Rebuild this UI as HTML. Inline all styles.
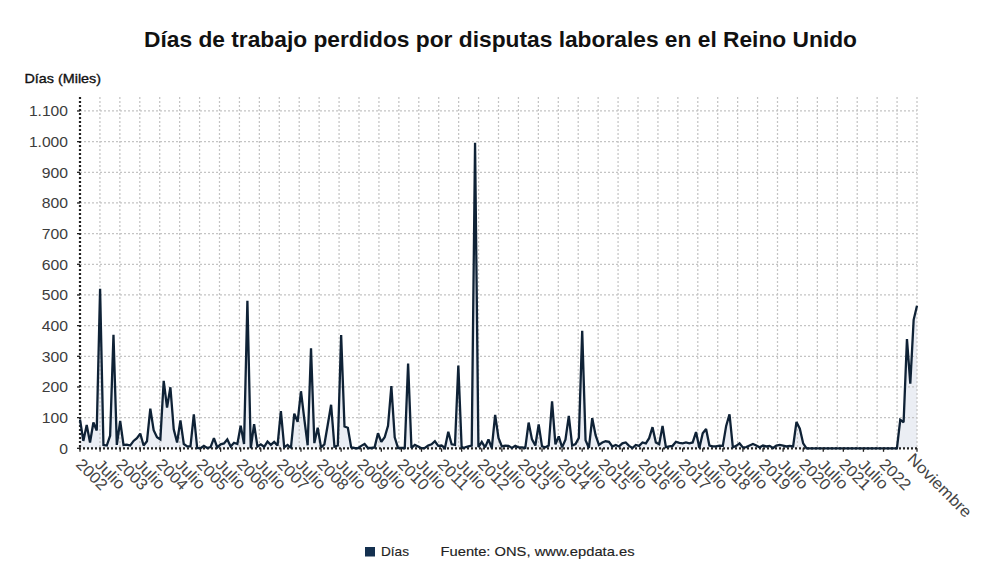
<!DOCTYPE html>
<html><head><meta charset="utf-8"><style>
html,body{margin:0;padding:0;background:#fff;}
body{width:1000px;height:588px;overflow:hidden;}
svg{display:block;font-family:"Liberation Sans",sans-serif;}
</style></head><body>
<svg width="1000" height="588" viewBox="0 0 1000 588">
<rect width="1000" height="588" fill="#fff"/>
<text x="144" y="47" font-size="21.5" font-weight="bold" fill="#111" textLength="713" lengthAdjust="spacingAndGlyphs">Días de trabajo perdidos por disputas laborales en el Reino Unido</text>
<text x="24.5" y="83.2" font-size="13" fill="#111" stroke="#111" stroke-width="0.35" textLength="76.5" lengthAdjust="spacingAndGlyphs">Días (Miles)</text>
<path d="M80.00,419.47 L83.35,440.94 L86.70,424.99 L90.04,442.47 L93.39,422.54 L96.74,430.51 L100.09,288.83 L103.44,444.93 L106.78,445.54 L110.13,435.73 L113.48,334.83 L116.83,444.93 L120.18,421.01 L123.52,444.93 L126.87,444.62 L130.22,445.54 L133.57,440.94 L136.92,438.18 L140.26,433.58 L143.61,445.54 L146.96,441.25 L150.31,408.74 L153.66,430.21 L157.00,437.26 L160.35,439.41 L163.70,380.83 L167.05,407.51 L170.40,387.27 L173.74,429.29 L177.09,442.47 L180.44,420.39 L183.79,444.01 L187.14,446.46 L190.48,446.46 L193.83,414.26 L197.18,447.99 L200.53,448.30 L203.88,445.85 L207.22,447.99 L210.57,447.07 L213.92,438.18 L217.27,447.38 L220.62,444.31 L223.96,443.39 L227.31,439.41 L230.66,446.46 L234.01,442.78 L237.36,444.01 L240.70,425.61 L244.05,444.01 L247.40,300.79 L250.75,448.30 L254.10,424.07 L257.44,446.46 L260.79,444.31 L264.14,446.77 L267.49,441.55 L270.84,444.93 L274.18,441.86 L277.53,445.54 L280.88,411.19 L284.23,447.38 L287.58,444.93 L290.92,447.99 L294.27,413.65 L297.62,421.93 L300.97,391.26 L304.32,419.17 L307.66,445.23 L311.01,348.33 L314.36,443.09 L317.71,427.75 L321.06,447.38 L324.40,444.31 L327.75,424.69 L331.10,404.75 L334.45,446.77 L337.80,445.54 L341.14,335.14 L344.49,426.53 L347.84,427.75 L351.19,447.38 L354.54,447.99 L357.88,448.30 L361.23,445.85 L364.58,444.01 L367.93,447.99 L371.28,447.99 L374.62,447.38 L377.97,433.27 L381.32,441.86 L384.67,437.26 L388.02,425.91 L391.36,386.05 L394.71,437.26 L398.06,447.99 L401.41,447.99 L404.76,447.99 L408.10,363.66 L411.45,447.99 L414.80,444.93 L418.15,446.46 L421.50,448.30 L424.84,447.99 L428.19,445.54 L431.54,444.31 L434.89,441.25 L438.24,445.85 L441.58,445.54 L444.93,447.99 L448.28,431.74 L451.63,444.31 L454.98,444.93 L458.32,365.50 L461.67,447.99 L465.02,447.38 L468.37,446.46 L471.72,445.54 L475.06,142.86 L478.41,447.07 L481.76,441.86 L485.11,447.38 L488.46,439.41 L491.80,447.99 L495.15,414.87 L498.50,437.87 L501.85,446.46 L505.20,445.54 L508.54,445.85 L511.89,447.99 L515.24,445.85 L518.59,447.38 L521.94,447.38 L525.28,447.99 L528.63,422.54 L531.98,439.41 L535.33,445.54 L538.68,424.38 L542.02,446.46 L545.37,447.38 L548.72,445.54 L552.07,401.38 L555.42,444.31 L558.76,436.34 L562.11,447.38 L565.46,439.71 L568.81,415.79 L572.16,445.54 L575.50,444.01 L578.85,437.87 L582.20,330.85 L585.55,440.33 L588.90,447.99 L592.24,418.25 L595.59,435.11 L598.94,444.93 L602.29,442.47 L605.64,441.25 L608.98,441.86 L612.33,446.46 L615.68,444.93 L619.03,446.46 L622.38,443.39 L625.72,442.47 L629.07,445.85 L632.42,447.99 L635.77,444.93 L639.12,445.85 L642.46,442.47 L645.81,443.39 L649.16,438.18 L652.51,427.14 L655.86,442.47 L659.20,444.31 L662.55,425.91 L665.90,447.07 L669.25,446.46 L672.60,445.85 L675.94,441.86 L679.29,442.78 L682.64,443.39 L685.99,442.47 L689.34,443.39 L692.68,442.47 L696.03,432.05 L699.38,447.99 L702.73,433.27 L706.08,428.98 L709.42,445.54 L712.77,446.46 L716.12,446.46 L719.47,445.54 L722.82,445.85 L726.16,425.91 L729.51,414.26 L732.86,447.38 L736.21,445.85 L739.56,443.39 L742.90,447.38 L746.25,447.07 L749.60,445.54 L752.95,444.01 L756.30,445.54 L759.64,447.38 L762.99,445.54 L766.34,446.46 L769.69,445.85 L773.04,447.99 L776.38,445.54 L779.73,444.93 L783.08,445.54 L786.43,446.46 L789.78,445.85 L793.12,446.46 L796.47,421.93 L799.82,428.67 L803.17,443.39 L806.52,448.30 L809.86,448.30 L813.21,448.30 L816.56,448.30 L819.91,448.30 L823.26,448.30 L826.60,448.30 L829.95,448.30 L833.30,448.30 L836.65,448.30 L840.00,448.30 L843.34,448.30 L846.69,448.30 L850.04,448.30 L853.39,448.30 L856.74,448.30 L860.08,448.30 L863.43,448.30 L866.78,448.30 L870.13,448.30 L873.48,448.30 L876.82,448.30 L880.17,448.30 L883.52,448.30 L886.87,448.30 L890.22,448.30 L893.56,448.30 L896.91,448.30 L900.26,419.78 L903.61,422.23 L906.96,339.13 L910.30,383.59 L913.65,319.81 L917.00,305.70 L917.00,448.3 L80.00,448.3 Z" fill="#ebeef4"/>
<g stroke="#c4c4c4" stroke-width="1.25" stroke-dasharray="2 2">
<line x1="80.0" y1="417.63" x2="917.0" y2="417.63"/><line x1="80.0" y1="386.97" x2="917.0" y2="386.97"/><line x1="80.0" y1="356.30" x2="917.0" y2="356.30"/><line x1="80.0" y1="325.63" x2="917.0" y2="325.63"/><line x1="80.0" y1="294.97" x2="917.0" y2="294.97"/><line x1="80.0" y1="264.30" x2="917.0" y2="264.30"/><line x1="80.0" y1="233.63" x2="917.0" y2="233.63"/><line x1="80.0" y1="202.96" x2="917.0" y2="202.96"/><line x1="80.0" y1="172.30" x2="917.0" y2="172.30"/><line x1="80.0" y1="141.63" x2="917.0" y2="141.63"/><line x1="80.0" y1="110.96" x2="917.0" y2="110.96"/><line x1="99.93" y1="97.0" x2="99.93" y2="448.3"/><line x1="119.86" y1="97.0" x2="119.86" y2="448.3"/><line x1="139.79" y1="97.0" x2="139.79" y2="448.3"/><line x1="159.71" y1="97.0" x2="159.71" y2="448.3"/><line x1="179.64" y1="97.0" x2="179.64" y2="448.3"/><line x1="199.57" y1="97.0" x2="199.57" y2="448.3"/><line x1="219.50" y1="97.0" x2="219.50" y2="448.3"/><line x1="239.43" y1="97.0" x2="239.43" y2="448.3"/><line x1="259.36" y1="97.0" x2="259.36" y2="448.3"/><line x1="279.29" y1="97.0" x2="279.29" y2="448.3"/><line x1="299.21" y1="97.0" x2="299.21" y2="448.3"/><line x1="319.14" y1="97.0" x2="319.14" y2="448.3"/><line x1="339.07" y1="97.0" x2="339.07" y2="448.3"/><line x1="359.00" y1="97.0" x2="359.00" y2="448.3"/><line x1="378.93" y1="97.0" x2="378.93" y2="448.3"/><line x1="398.86" y1="97.0" x2="398.86" y2="448.3"/><line x1="418.79" y1="97.0" x2="418.79" y2="448.3"/><line x1="438.71" y1="97.0" x2="438.71" y2="448.3"/><line x1="458.64" y1="97.0" x2="458.64" y2="448.3"/><line x1="478.57" y1="97.0" x2="478.57" y2="448.3"/><line x1="498.50" y1="97.0" x2="498.50" y2="448.3"/><line x1="518.43" y1="97.0" x2="518.43" y2="448.3"/><line x1="538.36" y1="97.0" x2="538.36" y2="448.3"/><line x1="558.29" y1="97.0" x2="558.29" y2="448.3"/><line x1="578.21" y1="97.0" x2="578.21" y2="448.3"/><line x1="598.14" y1="97.0" x2="598.14" y2="448.3"/><line x1="618.07" y1="97.0" x2="618.07" y2="448.3"/><line x1="638.00" y1="97.0" x2="638.00" y2="448.3"/><line x1="657.93" y1="97.0" x2="657.93" y2="448.3"/><line x1="677.86" y1="97.0" x2="677.86" y2="448.3"/><line x1="697.79" y1="97.0" x2="697.79" y2="448.3"/><line x1="717.71" y1="97.0" x2="717.71" y2="448.3"/><line x1="737.64" y1="97.0" x2="737.64" y2="448.3"/><line x1="757.57" y1="97.0" x2="757.57" y2="448.3"/><line x1="777.50" y1="97.0" x2="777.50" y2="448.3"/><line x1="797.43" y1="97.0" x2="797.43" y2="448.3"/><line x1="817.36" y1="97.0" x2="817.36" y2="448.3"/><line x1="837.29" y1="97.0" x2="837.29" y2="448.3"/><line x1="857.21" y1="97.0" x2="857.21" y2="448.3"/><line x1="877.14" y1="97.0" x2="877.14" y2="448.3"/><line x1="897.07" y1="97.0" x2="897.07" y2="448.3"/><line x1="917.00" y1="97.0" x2="917.00" y2="448.3"/>
</g>
<g stroke="#222" stroke-width="2.2" stroke-dasharray="2 2">
<line x1="80" y1="97.0" x2="80" y2="449.3"/>
<line x1="79" y1="448.3" x2="917.0" y2="448.3"/>
</g>
<path d="M80.00,419.47 L83.35,440.94 L86.70,424.99 L90.04,442.47 L93.39,422.54 L96.74,430.51 L100.09,288.83 L103.44,444.93 L106.78,445.54 L110.13,435.73 L113.48,334.83 L116.83,444.93 L120.18,421.01 L123.52,444.93 L126.87,444.62 L130.22,445.54 L133.57,440.94 L136.92,438.18 L140.26,433.58 L143.61,445.54 L146.96,441.25 L150.31,408.74 L153.66,430.21 L157.00,437.26 L160.35,439.41 L163.70,380.83 L167.05,407.51 L170.40,387.27 L173.74,429.29 L177.09,442.47 L180.44,420.39 L183.79,444.01 L187.14,446.46 L190.48,446.46 L193.83,414.26 L197.18,447.99 L200.53,448.30 L203.88,445.85 L207.22,447.99 L210.57,447.07 L213.92,438.18 L217.27,447.38 L220.62,444.31 L223.96,443.39 L227.31,439.41 L230.66,446.46 L234.01,442.78 L237.36,444.01 L240.70,425.61 L244.05,444.01 L247.40,300.79 L250.75,448.30 L254.10,424.07 L257.44,446.46 L260.79,444.31 L264.14,446.77 L267.49,441.55 L270.84,444.93 L274.18,441.86 L277.53,445.54 L280.88,411.19 L284.23,447.38 L287.58,444.93 L290.92,447.99 L294.27,413.65 L297.62,421.93 L300.97,391.26 L304.32,419.17 L307.66,445.23 L311.01,348.33 L314.36,443.09 L317.71,427.75 L321.06,447.38 L324.40,444.31 L327.75,424.69 L331.10,404.75 L334.45,446.77 L337.80,445.54 L341.14,335.14 L344.49,426.53 L347.84,427.75 L351.19,447.38 L354.54,447.99 L357.88,448.30 L361.23,445.85 L364.58,444.01 L367.93,447.99 L371.28,447.99 L374.62,447.38 L377.97,433.27 L381.32,441.86 L384.67,437.26 L388.02,425.91 L391.36,386.05 L394.71,437.26 L398.06,447.99 L401.41,447.99 L404.76,447.99 L408.10,363.66 L411.45,447.99 L414.80,444.93 L418.15,446.46 L421.50,448.30 L424.84,447.99 L428.19,445.54 L431.54,444.31 L434.89,441.25 L438.24,445.85 L441.58,445.54 L444.93,447.99 L448.28,431.74 L451.63,444.31 L454.98,444.93 L458.32,365.50 L461.67,447.99 L465.02,447.38 L468.37,446.46 L471.72,445.54 L475.06,142.86 L478.41,447.07 L481.76,441.86 L485.11,447.38 L488.46,439.41 L491.80,447.99 L495.15,414.87 L498.50,437.87 L501.85,446.46 L505.20,445.54 L508.54,445.85 L511.89,447.99 L515.24,445.85 L518.59,447.38 L521.94,447.38 L525.28,447.99 L528.63,422.54 L531.98,439.41 L535.33,445.54 L538.68,424.38 L542.02,446.46 L545.37,447.38 L548.72,445.54 L552.07,401.38 L555.42,444.31 L558.76,436.34 L562.11,447.38 L565.46,439.71 L568.81,415.79 L572.16,445.54 L575.50,444.01 L578.85,437.87 L582.20,330.85 L585.55,440.33 L588.90,447.99 L592.24,418.25 L595.59,435.11 L598.94,444.93 L602.29,442.47 L605.64,441.25 L608.98,441.86 L612.33,446.46 L615.68,444.93 L619.03,446.46 L622.38,443.39 L625.72,442.47 L629.07,445.85 L632.42,447.99 L635.77,444.93 L639.12,445.85 L642.46,442.47 L645.81,443.39 L649.16,438.18 L652.51,427.14 L655.86,442.47 L659.20,444.31 L662.55,425.91 L665.90,447.07 L669.25,446.46 L672.60,445.85 L675.94,441.86 L679.29,442.78 L682.64,443.39 L685.99,442.47 L689.34,443.39 L692.68,442.47 L696.03,432.05 L699.38,447.99 L702.73,433.27 L706.08,428.98 L709.42,445.54 L712.77,446.46 L716.12,446.46 L719.47,445.54 L722.82,445.85 L726.16,425.91 L729.51,414.26 L732.86,447.38 L736.21,445.85 L739.56,443.39 L742.90,447.38 L746.25,447.07 L749.60,445.54 L752.95,444.01 L756.30,445.54 L759.64,447.38 L762.99,445.54 L766.34,446.46 L769.69,445.85 L773.04,447.99 L776.38,445.54 L779.73,444.93 L783.08,445.54 L786.43,446.46 L789.78,445.85 L793.12,446.46 L796.47,421.93 L799.82,428.67 L803.17,443.39 L806.52,448.30 L809.86,448.30 L813.21,448.30 L816.56,448.30 L819.91,448.30 L823.26,448.30 L826.60,448.30 L829.95,448.30 L833.30,448.30 L836.65,448.30 L840.00,448.30 L843.34,448.30 L846.69,448.30 L850.04,448.30 L853.39,448.30 L856.74,448.30 L860.08,448.30 L863.43,448.30 L866.78,448.30 L870.13,448.30 L873.48,448.30 L876.82,448.30 L880.17,448.30 L883.52,448.30 L886.87,448.30 L890.22,448.30 L893.56,448.30 L896.91,448.30 L900.26,419.78 L903.61,422.23 L906.96,339.13 L910.30,383.59 L913.65,319.81 L917.00,305.70" fill="none" stroke="#0f2236" stroke-width="2.3" stroke-linejoin="miter" stroke-miterlimit="2"/>
<g stroke="#222" stroke-width="1.3">
<line x1="77" y1="448.30" x2="80" y2="448.30"/><line x1="77" y1="417.63" x2="80" y2="417.63"/><line x1="77" y1="386.97" x2="80" y2="386.97"/><line x1="77" y1="356.30" x2="80" y2="356.30"/><line x1="77" y1="325.63" x2="80" y2="325.63"/><line x1="77" y1="294.97" x2="80" y2="294.97"/><line x1="77" y1="264.30" x2="80" y2="264.30"/><line x1="77" y1="233.63" x2="80" y2="233.63"/><line x1="77" y1="202.96" x2="80" y2="202.96"/><line x1="77" y1="172.30" x2="80" y2="172.30"/><line x1="77" y1="141.63" x2="80" y2="141.63"/><line x1="77" y1="110.96" x2="80" y2="110.96"/><line x1="80.00" y1="448.3" x2="80.00" y2="451.8"/><line x1="100.09" y1="448.3" x2="100.09" y2="451.8"/><line x1="120.18" y1="448.3" x2="120.18" y2="451.8"/><line x1="140.26" y1="448.3" x2="140.26" y2="451.8"/><line x1="160.35" y1="448.3" x2="160.35" y2="451.8"/><line x1="180.44" y1="448.3" x2="180.44" y2="451.8"/><line x1="200.53" y1="448.3" x2="200.53" y2="451.8"/><line x1="220.62" y1="448.3" x2="220.62" y2="451.8"/><line x1="240.70" y1="448.3" x2="240.70" y2="451.8"/><line x1="260.79" y1="448.3" x2="260.79" y2="451.8"/><line x1="280.88" y1="448.3" x2="280.88" y2="451.8"/><line x1="300.97" y1="448.3" x2="300.97" y2="451.8"/><line x1="321.06" y1="448.3" x2="321.06" y2="451.8"/><line x1="341.14" y1="448.3" x2="341.14" y2="451.8"/><line x1="361.23" y1="448.3" x2="361.23" y2="451.8"/><line x1="381.32" y1="448.3" x2="381.32" y2="451.8"/><line x1="401.41" y1="448.3" x2="401.41" y2="451.8"/><line x1="421.50" y1="448.3" x2="421.50" y2="451.8"/><line x1="441.58" y1="448.3" x2="441.58" y2="451.8"/><line x1="461.67" y1="448.3" x2="461.67" y2="451.8"/><line x1="481.76" y1="448.3" x2="481.76" y2="451.8"/><line x1="501.85" y1="448.3" x2="501.85" y2="451.8"/><line x1="521.94" y1="448.3" x2="521.94" y2="451.8"/><line x1="542.02" y1="448.3" x2="542.02" y2="451.8"/><line x1="562.11" y1="448.3" x2="562.11" y2="451.8"/><line x1="582.20" y1="448.3" x2="582.20" y2="451.8"/><line x1="602.29" y1="448.3" x2="602.29" y2="451.8"/><line x1="622.38" y1="448.3" x2="622.38" y2="451.8"/><line x1="642.46" y1="448.3" x2="642.46" y2="451.8"/><line x1="662.55" y1="448.3" x2="662.55" y2="451.8"/><line x1="682.64" y1="448.3" x2="682.64" y2="451.8"/><line x1="702.73" y1="448.3" x2="702.73" y2="451.8"/><line x1="722.82" y1="448.3" x2="722.82" y2="451.8"/><line x1="742.90" y1="448.3" x2="742.90" y2="451.8"/><line x1="762.99" y1="448.3" x2="762.99" y2="451.8"/><line x1="783.08" y1="448.3" x2="783.08" y2="451.8"/><line x1="803.17" y1="448.3" x2="803.17" y2="451.8"/><line x1="823.26" y1="448.3" x2="823.26" y2="451.8"/><line x1="843.34" y1="448.3" x2="843.34" y2="451.8"/><line x1="863.43" y1="448.3" x2="863.43" y2="451.8"/><line x1="883.52" y1="448.3" x2="883.52" y2="451.8"/><line x1="917.00" y1="448.3" x2="917.00" y2="451.8"/>
</g>
<g font-size="15.3" fill="#3c3c3c">
<text x="59.25" y="453.70" textLength="8.75" lengthAdjust="spacingAndGlyphs">0</text><text x="41.75" y="423.03" textLength="26.25" lengthAdjust="spacingAndGlyphs">100</text><text x="41.75" y="392.37" textLength="26.25" lengthAdjust="spacingAndGlyphs">200</text><text x="41.75" y="361.70" textLength="26.25" lengthAdjust="spacingAndGlyphs">300</text><text x="41.75" y="331.03" textLength="26.25" lengthAdjust="spacingAndGlyphs">400</text><text x="41.75" y="300.37" textLength="26.25" lengthAdjust="spacingAndGlyphs">500</text><text x="41.75" y="269.70" textLength="26.25" lengthAdjust="spacingAndGlyphs">600</text><text x="41.75" y="239.03" textLength="26.25" lengthAdjust="spacingAndGlyphs">700</text><text x="41.75" y="208.36" textLength="26.25" lengthAdjust="spacingAndGlyphs">800</text><text x="41.75" y="177.70" textLength="26.25" lengthAdjust="spacingAndGlyphs">900</text><text x="28.92" y="147.03" textLength="39.08" lengthAdjust="spacingAndGlyphs">1.000</text><text x="28.92" y="116.36" textLength="39.08" lengthAdjust="spacingAndGlyphs">1.100</text>
</g>
<g font-size="16" fill="#444">
<text transform="translate(75.00,465.30) rotate(45)" textLength="36.8" lengthAdjust="spacingAndGlyphs">2002</text><text transform="translate(93.89,465.60) rotate(45)" textLength="35" lengthAdjust="spacingAndGlyphs">Julio</text><text transform="translate(115.18,465.30) rotate(45)" textLength="36.8" lengthAdjust="spacingAndGlyphs">2003</text><text transform="translate(134.06,465.60) rotate(45)" textLength="35" lengthAdjust="spacingAndGlyphs">Julio</text><text transform="translate(155.35,465.30) rotate(45)" textLength="36.8" lengthAdjust="spacingAndGlyphs">2004</text><text transform="translate(174.24,465.60) rotate(45)" textLength="35" lengthAdjust="spacingAndGlyphs">Julio</text><text transform="translate(195.53,465.30) rotate(45)" textLength="36.8" lengthAdjust="spacingAndGlyphs">2005</text><text transform="translate(214.42,465.60) rotate(45)" textLength="35" lengthAdjust="spacingAndGlyphs">Julio</text><text transform="translate(235.70,465.30) rotate(45)" textLength="36.8" lengthAdjust="spacingAndGlyphs">2006</text><text transform="translate(254.59,465.60) rotate(45)" textLength="35" lengthAdjust="spacingAndGlyphs">Julio</text><text transform="translate(275.88,465.30) rotate(45)" textLength="36.8" lengthAdjust="spacingAndGlyphs">2007</text><text transform="translate(294.77,465.60) rotate(45)" textLength="35" lengthAdjust="spacingAndGlyphs">Julio</text><text transform="translate(316.06,465.30) rotate(45)" textLength="36.8" lengthAdjust="spacingAndGlyphs">2008</text><text transform="translate(334.94,465.60) rotate(45)" textLength="35" lengthAdjust="spacingAndGlyphs">Julio</text><text transform="translate(356.23,465.30) rotate(45)" textLength="36.8" lengthAdjust="spacingAndGlyphs">2009</text><text transform="translate(375.12,465.60) rotate(45)" textLength="35" lengthAdjust="spacingAndGlyphs">Julio</text><text transform="translate(396.41,465.30) rotate(45)" textLength="36.8" lengthAdjust="spacingAndGlyphs">2010</text><text transform="translate(415.30,465.60) rotate(45)" textLength="35" lengthAdjust="spacingAndGlyphs">Julio</text><text transform="translate(436.58,465.30) rotate(45)" textLength="36.8" lengthAdjust="spacingAndGlyphs">2011</text><text transform="translate(455.47,465.60) rotate(45)" textLength="35" lengthAdjust="spacingAndGlyphs">Julio</text><text transform="translate(476.76,465.30) rotate(45)" textLength="36.8" lengthAdjust="spacingAndGlyphs">2012</text><text transform="translate(495.65,465.60) rotate(45)" textLength="35" lengthAdjust="spacingAndGlyphs">Julio</text><text transform="translate(516.94,465.30) rotate(45)" textLength="36.8" lengthAdjust="spacingAndGlyphs">2013</text><text transform="translate(535.82,465.60) rotate(45)" textLength="35" lengthAdjust="spacingAndGlyphs">Julio</text><text transform="translate(557.11,465.30) rotate(45)" textLength="36.8" lengthAdjust="spacingAndGlyphs">2014</text><text transform="translate(576.00,465.60) rotate(45)" textLength="35" lengthAdjust="spacingAndGlyphs">Julio</text><text transform="translate(597.29,465.30) rotate(45)" textLength="36.8" lengthAdjust="spacingAndGlyphs">2015</text><text transform="translate(616.18,465.60) rotate(45)" textLength="35" lengthAdjust="spacingAndGlyphs">Julio</text><text transform="translate(637.46,465.30) rotate(45)" textLength="36.8" lengthAdjust="spacingAndGlyphs">2016</text><text transform="translate(656.35,465.60) rotate(45)" textLength="35" lengthAdjust="spacingAndGlyphs">Julio</text><text transform="translate(677.64,465.30) rotate(45)" textLength="36.8" lengthAdjust="spacingAndGlyphs">2017</text><text transform="translate(696.53,465.60) rotate(45)" textLength="35" lengthAdjust="spacingAndGlyphs">Julio</text><text transform="translate(717.82,465.30) rotate(45)" textLength="36.8" lengthAdjust="spacingAndGlyphs">2018</text><text transform="translate(736.70,465.60) rotate(45)" textLength="35" lengthAdjust="spacingAndGlyphs">Julio</text><text transform="translate(757.99,465.30) rotate(45)" textLength="36.8" lengthAdjust="spacingAndGlyphs">2019</text><text transform="translate(776.88,465.60) rotate(45)" textLength="35" lengthAdjust="spacingAndGlyphs">Julio</text><text transform="translate(798.17,465.30) rotate(45)" textLength="36.8" lengthAdjust="spacingAndGlyphs">2020</text><text transform="translate(817.06,465.60) rotate(45)" textLength="35" lengthAdjust="spacingAndGlyphs">Julio</text><text transform="translate(838.34,465.30) rotate(45)" textLength="36.8" lengthAdjust="spacingAndGlyphs">2021</text><text transform="translate(857.23,465.60) rotate(45)" textLength="35" lengthAdjust="spacingAndGlyphs">Julio</text><text transform="translate(878.52,465.30) rotate(45)" textLength="36.8" lengthAdjust="spacingAndGlyphs">2022</text><text transform="translate(906.50,459.80) rotate(45)" textLength="83" lengthAdjust="spacingAndGlyphs">Noviembre</text>
</g>
<rect x="365" y="547" width="10" height="9.5" fill="#14304f"/>
<text x="381" y="556.4" font-size="13.6" fill="#222" stroke="#222" stroke-width="0.15" textLength="28" lengthAdjust="spacingAndGlyphs">Días</text>
<text x="440.5" y="556.4" font-size="13.6" fill="#222" stroke="#222" stroke-width="0.15" textLength="194" lengthAdjust="spacingAndGlyphs">Fuente: ONS, www.epdata.es</text>
</svg>
</body></html>
